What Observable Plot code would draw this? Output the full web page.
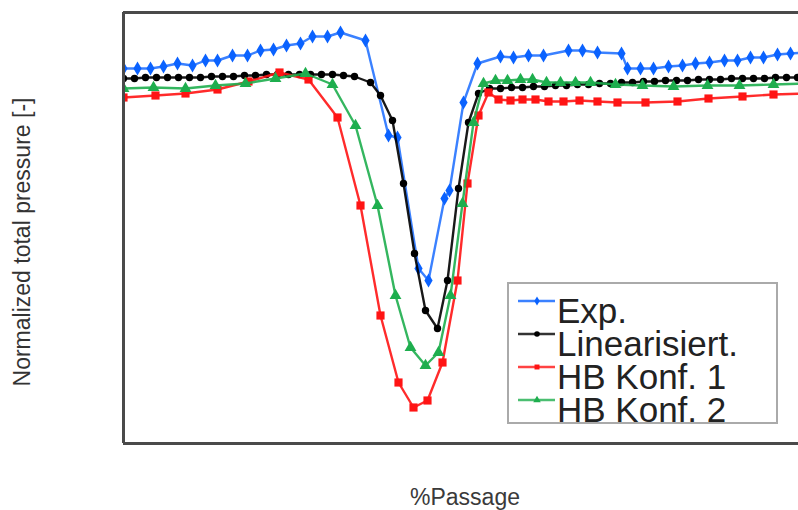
<!DOCTYPE html>
<html><head><meta charset="utf-8">
<script src="https://cdn.jsdelivr.net/npm/d3@7"></script>
<script src="https://cdn.jsdelivr.net/npm/@observablehq/plot@0.6"></script>
<style>
html,body{margin:0;padding:0;background:#fff;}
#wrap{position:relative;width:798px;height:510px;overflow:hidden;background:#fff;}
#wrap svg{position:absolute;left:0;top:0;}
</style></head><body><div id="wrap"></div>
<script>
const seriesNames = ["Exp.", "Linearisiert.", "HB Konf. 1", "HB Konf. 2"];
const seriesColors = ["#0a62ff", "#000000", "#ff1414", "#1eae4e"];
const seriesSymbols = ["diamond", "circle", "square", "triangle"];
const seriesR = [4.3, 3.7, 4.6, 4.4];
const xLabel = "%Passage";
const yLabel = "Normalized total pressure [-]";
const xDomain = [0, 135];
const yDomain = [0.55, 0.981];

const expX = [0,2.8,5.4,8.0,10.8,13.8,16.4,18.8,21.8,24.8,27.4,30.0,32.6,35.4,37.8,40.8,43.4,48.4,53.0,54.8,59.0,61.0,64.2,65.2,68.0,70.8,75.4,78.0,81.0,84.0,89.0,91.8,94.8,99.6,100.8,103.4,106.0,109.0,111.8,114.4,117.2,120.2,122.8,125.4,128.0,130.8,133.4,136.0];
const expY = [.925,.925,.925,.927,.930,.928,.933,.933,.938,.938,.943,.944,.948,.950,.957,.957,.961,.953,.858,.856,.725,.713,.795,.803,.891,.930,.937,.936,.938,.938,.943,.943,.941,.940,.925,.925,.925,.927,.928,.930,.931,.933,.933,.936,.936,.939,.940,.941];

const linX = [0,2.2,4.4,6.6,8.8,11.0,13.2,15.4,17.6,19.8,22.0,24.2,26.4,28.6,30.8,33.0,35.2,37.4,39.6,41.8,44.0,46.2,49.4,51.4,53.8,56.0,58.2,60.4,62.8,64.8,67.0,69.0,71.0,73.2,75.4,77.6,79.8,82.0,84.2,86.4,88.6,90.8,93.0,95.2,97.4,99.6,101.8,104.0,106.2,108.4,110.6,112.8,115.0,117.2,119.4,121.6,123.8,126.0,128.2,130.4,132.6,134.8];
const linY = [.915,.915,.916,.916,.916,.916,.916,.916,.917,.917,.917,.918,.918,.919,.919,.919,.919,.919,.919,.919,.918,.917,.911,.898,.873,.810,.740,.683,.665,.713,.805,.871,.900,.905,.905,.906,.906,.907,.907,.908,.908,.909,.909,.910,.910,.911,.911,.912,.912,.913,.913,.913,.914,.914,.914,.915,.915,.915,.915,.916,.916,.916];

const hb1X = [0,6.4,12.4,18.8,25.0,31.2,37.0,42.8,47.4,51.4,55.0,58.0,60.8,63.8,66.8,68.8,71.0,73.0,75.0,77.4,79.8,82.4,85.0,88.0,91.2,94.8,98.8,104.4,110.8,117.0,123.8,130.0,136.4];
const hb1Y = [.896,.898,.900,.904,.912,.921,.914,.876,.788,.678,.611,.586,.593,.631,.713,.810,.878,.901,.894,.893,.894,.894,.892,.892,.893,.892,.891,.891,.892,.895,.897,.899,.900];

const hb2X = [0,6.0,12.4,18.4,24.4,30.4,36.4,41.8,46.4,50.8,54.4,57.4,60.4,63.0,65.4,67.8,70.0,72.0,74.4,76.8,79.4,81.8,84.6,87.4,90.4,93.4,98.4,103.8,110.0,116.8,123.2,130.0,136.6];
const hb2Y = [.905,.906,.905,.908,.910,.915,.920,.909,.868,.788,.698,.646,.628,.641,.698,.790,.871,.910,.913,.913,.914,.914,.911,.911,.911,.911,.909,.908,.907,.908,.908,.909,.910];

const rows = (xs, ys) => xs.map((x, i) => ({x, y: ys[i]}));
const series = [rows(expX, expY), rows(linX, linY), rows(hb1X, hb1Y), rows(hb2X, hb2Y)];

const font = "'Liberation Sans', Arial, sans-serif";
const marks = [];
series.forEach((d, i) => {
  marks.push(Plot.line(d, {x: "x", y: "y", stroke: seriesColors[i], strokeWidth: 2.4, strokeOpacity: i === 0 ? 0.8 : 0.9, clip: true}));
  marks.push(Plot.dot(d, {x: "x", y: "y", symbol: seriesSymbols[i], r: seriesR[i], fill: seriesColors[i], stroke: "none", clip: true}));
});
marks.push(Plot.ruleY(yDomain, {stroke: "#4a4a4a", strokeWidth: 3}));
marks.push(Plot.ruleX([xDomain[0]], {stroke: "#4a4a4a", strokeWidth: 3}));
marks.push(Plot.text([yLabel], {text: d => d, frameAnchor: "left", dx: -101, dy: 14, rotate: -90, fontSize: 23, fill: "#333", textAnchor: "middle", lineAnchor: "middle"}));
marks.push(Plot.text([xLabel], {text: d => d, frameAnchor: "bottom", dx: 4, dy: 54, fontSize: 23, fill: "#3a3a3a", textAnchor: "middle", lineAnchor: "middle"}));

const chart = Plot.plot({
  width: 798, height: 510,
  marginTop: 12, marginBottom: 67, marginLeft: 123, marginRight: 0,
  style: {fontFamily: font, background: "#fff"},
  x: {domain: xDomain, axis: null},
  y: {domain: yDomain, axis: null},
  marks
});
document.getElementById("wrap").appendChild(chart);

// Legend
const leg = d3.select("#wrap").append("svg").attr("width", 798).attr("height", 510).style("pointer-events", "none");
leg.append("rect").attr("x", 508).attr("y", 283).attr("width", 269).attr("height", 140)
  .attr("fill", "#fff").attr("stroke", "#aaaaaa").attr("stroke-width", 2);
const symMap = {diamond: d3.symbolDiamond, circle: d3.symbolCircle, square: d3.symbolSquare, triangle: d3.symbolTriangle};
seriesNames.forEach((name, i) => {
  const base = 323 + 33 * i;
  const ly = base - 22;
  leg.append("line").attr("x1", 518).attr("x2", 555).attr("y1", ly).attr("y2", ly)
    .attr("stroke", seriesColors[i]).attr("stroke-width", 2.4).attr("stroke-opacity", 0.8);
  leg.append("path").attr("transform", `translate(537,${ly})`)
    .attr("d", d3.symbol(symMap[seriesSymbols[i]], Math.PI * 2.8 * 2.8)())
    .attr("fill", seriesColors[i]);
  leg.append("text").attr("x", 557).attr("y", base).attr("font-family", font)
    .attr("font-size", 35).attr("fill", "#222").text(name);
});
</script></body></html>
